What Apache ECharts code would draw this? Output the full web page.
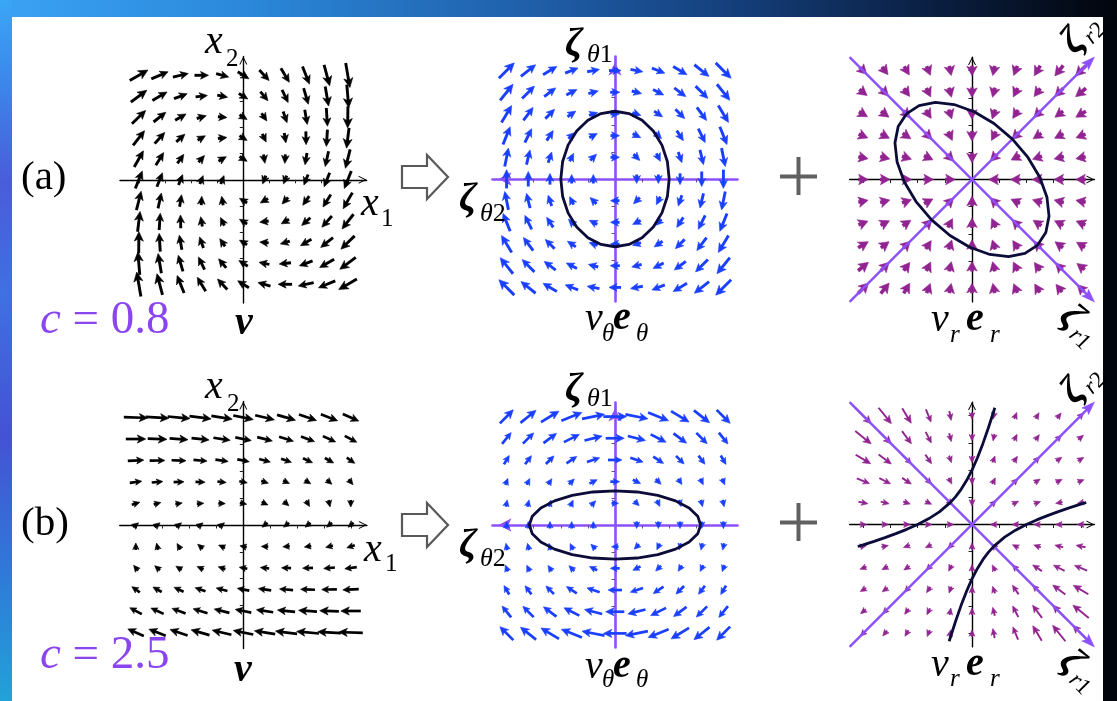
<!DOCTYPE html>
<html>
<head>
<meta charset="utf-8">
<script src="https://cdn.jsdelivr.net/npm/echarts@6/dist/echarts.min.js"></script>
<style>
html, body { margin: 0; padding: 0; width: 1117px; height: 701px; overflow: hidden; background: #02050c; }
#topbar { position: absolute; left: 0; top: 0; width: 1117px; height: 17px;
  background: linear-gradient(90deg, #3aa2f4 0%, #2b88da 22%, #1f5ea8 48%, #143e7a 66%, #0a1e40 84%, #02050c 100%); }
#leftbar { position: absolute; left: 0; top: 0; width: 12px; height: 701px;
  background: linear-gradient(180deg, #3aa6f6 0%, #3c86ea 12%, #4a5cda 26%, #3f70e2 42%, #4552d4 62%, #2f7ad8 82%, #22a2d8 100%); }
#paper { position: absolute; left: 12px; top: 17px; width: 1091px; height: 684px; background: #ffffff; }
#chart { position: absolute; left: 0; top: 0; width: 1117px; height: 701px; }
</style>
</head>
<body>
<div id="topbar"></div>
<div id="leftbar"></div>
<div id="paper"></div>
<div id="chart"></div>
<script>
// Sample positions of the 11 x 11 arrow lattice (same on both axes)
const gridValues = [-2, -1.6, -1.2, -0.8, -0.4, 0, 0.4, 0.8, 1.2, 1.6, 2];
const tickValues = [-2, -1.5, -1, -0.5, 0.5, 1, 1.5, 2];

// Each field: rows from top (x2 = 2) to bottom (x2 = -2), columns from x1 = -2 to 2, entries [v1, v2]
// (a) c = 0.8 : full field v
const fieldVA = [
  [[13,7.5],[12,5],[11,2.5],[10,0],[9,-2.5],[8,-5],[7,-7.5],[6,-10],[5,-12.5],[4,-15],[3,-17.5]],
  [[11.4,8.5],[10.4,6],[9.4,3.5],[8.4,1],[7.4,-1.5],[6.4,-4],[5.4,-6.5],[4.4,-9],[3.4,-11.5],[2.4,-14],[1.4,-16.5]],
  [[9.8,9.5],[8.8,7],[7.8,4.5],[6.8,2],[5.8,-0.5],[4.8,-3],[3.8,-5.5],[2.8,-8],[1.8,-10.5],[0.8,-13],[-0.2,-15.5]],
  [[8.2,10.5],[7.2,8],[6.2,5.5],[5.2,3],[4.2,0.5],[3.2,-2],[2.2,-4.5],[1.2,-7],[0.2,-9.5],[-0.8,-12],[-1.8,-14.5]],
  [[6.6,11.5],[5.6,9],[4.6,6.5],[3.6,4],[2.6,1.5],[1.6,-1],[0.6,-3.5],[-0.4,-6],[-1.4,-8.5],[-2.4,-11],[-3.4,-13.5]],
  [[5,12.5],[4,10],[3,7.5],[2,5],[1,2.5],[0,0],[-1,-2.5],[-2,-5],[-3,-7.5],[-4,-10],[-5,-12.5]],
  [[3.4,13.5],[2.4,11],[1.4,8.5],[0.4,6],[-0.6,3.5],[-1.6,1],[-2.6,-1.5],[-3.6,-4],[-4.6,-6.5],[-5.6,-9],[-6.6,-11.5]],
  [[1.8,14.5],[0.8,12],[-0.2,9.5],[-1.2,7],[-2.2,4.5],[-3.2,2],[-4.2,-0.5],[-5.2,-3],[-6.2,-5.5],[-7.2,-8],[-8.2,-10.5]],
  [[0.2,15.5],[-0.8,13],[-1.8,10.5],[-2.8,8],[-3.8,5.5],[-4.8,3],[-5.8,0.5],[-6.8,-2],[-7.8,-4.5],[-8.8,-7],[-9.8,-9.5]],
  [[-1.4,16.5],[-2.4,14],[-3.4,11.5],[-4.4,9],[-5.4,6.5],[-6.4,4],[-7.4,1.5],[-8.4,-1],[-9.4,-3.5],[-10.4,-6],[-11.4,-8.5]],
  [[-3,17.5],[-4,15],[-5,12.5],[-6,10],[-7,7.5],[-8,5],[-9,2.5],[-10,0],[-11,-2.5],[-12,-5],[-13,-7.5]]
];
// (a) tangential part v_theta e_theta
const fieldThetaA = [
  [[10.3,10.3],[9.8,7.8],[9.2,5.5],[8.6,3.4],[8.2,1.6],[8,0],[8.2,-1.6],[8.6,-3.4],[9.2,-5.5],[9.8,-7.8],[10.3,-10.3]],
  [[8.6,10.7],[8.2,8.2],[7.7,5.8],[7.1,3.6],[6.6,1.7],[6.4,0],[6.6,-1.7],[7.1,-3.6],[7.7,-5.8],[8.2,-8.2],[8.6,-10.7]],
  [[6.8,11.3],[6.5,8.7],[6.2,6.2],[5.6,3.8],[5.1,1.7],[4.8,0],[5.1,-1.7],[5.6,-3.8],[6.2,-6.2],[6.5,-8.7],[6.8,-11.3]],
  [[4.8,11.9],[4.6,9.3],[4.4,6.7],[4.1,4.1],[3.6,1.8],[3.2,0],[3.6,-1.8],[4.1,-4.1],[4.4,-6.7],[4.6,-9.3],[4.8,-11.9]],
  [[2.5,12.3],[2.4,9.8],[2.4,7.2],[2.3,4.6],[2.1,2.1],[1.6,0],[2.1,-2.1],[2.3,-4.6],[2.4,-7.2],[2.4,-9.8],[2.5,-12.3]],
  [[0,12.5],[0,10],[0,7.5],[0,5],[0,2.5],[0,0],[0,-2.5],[0,-5],[0,-7.5],[0,-10],[0,-12.5]],
  [[-2.5,12.3],[-2.4,9.8],[-2.4,7.2],[-2.3,4.6],[-2.1,2.1],[-1.6,0],[-2.1,-2.1],[-2.3,-4.6],[-2.4,-7.2],[-2.4,-9.8],[-2.5,-12.3]],
  [[-4.8,11.9],[-4.6,9.3],[-4.4,6.7],[-4.1,4.1],[-3.6,1.8],[-3.2,0],[-3.6,-1.8],[-4.1,-4.1],[-4.4,-6.7],[-4.6,-9.3],[-4.8,-11.9]],
  [[-6.8,11.3],[-6.5,8.7],[-6.2,6.2],[-5.6,3.8],[-5.1,1.7],[-4.8,0],[-5.1,-1.7],[-5.6,-3.8],[-6.2,-6.2],[-6.5,-8.7],[-6.8,-11.3]],
  [[-8.6,10.7],[-8.2,8.2],[-7.7,5.8],[-7.1,3.6],[-6.6,1.7],[-6.4,0],[-6.6,-1.7],[-7.1,-3.6],[-7.7,-5.8],[-8.2,-8.2],[-8.6,-10.7]],
  [[-10.3,10.3],[-9.8,7.8],[-9.2,5.5],[-8.6,3.4],[-8.2,1.6],[-8,0],[-8.2,-1.6],[-8.6,-3.4],[-9.2,-5.5],[-9.8,-7.8],[-10.3,-10.3]]
];
// (a) radial part v_r e_r
const fieldRadialA = [
  [[2.8,-2.8],[2.2,-2.8],[1.8,-3],[1.4,-3.4],[0.8,-4.1],[0,-5],[-1.2,-5.9],[-2.6,-6.6],[-4.2,-7],[-5.8,-7.2],[-7.3,-7.3]],
  [[2.8,-2.2],[2.2,-2.2],[1.7,-2.3],[1.3,-2.6],[0.8,-3.2],[0,-4],[-1.2,-4.8],[-2.7,-5.4],[-4.3,-5.7],[-5.8,-5.8],[-7.2,-5.8]],
  [[3,-1.8],[2.3,-1.7],[1.7,-1.7],[1.2,-1.8],[0.7,-2.2],[0,-3],[-1.3,-3.8],[-2.8,-4.2],[-4.4,-4.4],[-5.7,-4.3],[-7,-4.2]],
  [[3.4,-1.4],[2.6,-1.3],[1.8,-1.2],[1.1,-1.1],[0.6,-1.3],[0,-2],[-1.4,-2.7],[-2.9,-2.9],[-4.2,-2.8],[-5.4,-2.7],[-6.6,-2.6]],
  [[4.1,-0.8],[3.2,-0.8],[2.2,-0.7],[1.3,-0.6],[0.6,-0.6],[0,-1],[-1.5,-1.5],[-2.7,-1.4],[-3.8,-1.3],[-4.8,-1.2],[-5.9,-1.2]],
  [[5,0],[4,0],[3,0],[2,0],[1,0],[0,0],[-1,0],[-2,0],[-3,0],[-4,0],[-5,0]],
  [[5.9,1.2],[4.8,1.2],[3.8,1.3],[2.7,1.4],[1.5,1.5],[0,1],[-0.6,0.6],[-1.3,0.6],[-2.2,0.7],[-3.2,0.8],[-4.1,0.8]],
  [[6.6,2.6],[5.4,2.7],[4.2,2.8],[2.9,2.9],[1.4,2.7],[0,2],[-0.6,1.3],[-1.1,1.1],[-1.8,1.2],[-2.6,1.3],[-3.4,1.4]],
  [[7,4.2],[5.7,4.3],[4.4,4.4],[2.8,4.2],[1.3,3.8],[0,3],[-0.7,2.2],[-1.2,1.8],[-1.7,1.7],[-2.3,1.7],[-3,1.8]],
  [[7.2,5.8],[5.8,5.8],[4.3,5.7],[2.7,5.4],[1.2,4.8],[0,4],[-0.8,3.2],[-1.3,2.6],[-1.7,2.3],[-2.2,2.2],[-2.8,2.2]],
  [[7.3,7.3],[5.8,7.2],[4.2,7],[2.6,6.6],[1.2,5.9],[0,5],[-0.8,4.1],[-1.4,3.4],[-1.8,3],[-2.2,2.8],[-2.8,2.8]]
];
// (b) c = 2.5 : full field v
const fieldVB = [
  [[30,-1],[29,-1.8],[28,-2.6],[27,-3.4],[26,-4.2],[25,-5],[24,-5.8],[23,-6.6],[22,-7.4],[21,-8.2],[20,-9]],
  [[25,0],[24,-0.8],[23,-1.6],[22,-2.4],[21,-3.2],[20,-4],[19,-4.8],[18,-5.6],[17,-6.4],[16,-7.2],[15,-8]],
  [[20,1],[19,0.2],[18,-0.6],[17,-1.4],[16,-2.2],[15,-3],[14,-3.8],[13,-4.6],[12,-5.4],[11,-6.2],[10,-7]],
  [[15,2],[14,1.2],[13,0.4],[12,-0.4],[11,-1.2],[10,-2],[9,-2.8],[8,-3.6],[7,-4.4],[6,-5.2],[5,-6]],
  [[10,3],[9,2.2],[8,1.4],[7,0.6],[6,-0.2],[5,-1],[4,-1.8],[3,-2.6],[2,-3.4],[1,-4.2],[0,-5]],
  [[5,4],[4,3.2],[3,2.4],[2,1.6],[1,0.8],[0,0],[-1,-0.8],[-2,-1.6],[-3,-2.4],[-4,-3.2],[-5,-4]],
  [[0,5],[-1,4.2],[-2,3.4],[-3,2.6],[-4,1.8],[-5,1],[-6,0.2],[-7,-0.6],[-8,-1.4],[-9,-2.2],[-10,-3]],
  [[-5,6],[-6,5.2],[-7,4.4],[-8,3.6],[-9,2.8],[-10,2],[-11,1.2],[-12,0.4],[-13,-0.4],[-14,-1.2],[-15,-2]],
  [[-10,7],[-11,6.2],[-12,5.4],[-13,4.6],[-14,3.8],[-15,3],[-16,2.2],[-17,1.4],[-18,0.6],[-19,-0.2],[-20,-1]],
  [[-15,8],[-16,7.2],[-17,6.4],[-18,5.6],[-19,4.8],[-20,4],[-21,3.2],[-22,2.4],[-23,1.6],[-24,0.8],[-25,0]],
  [[-20,9],[-21,8.2],[-22,7.4],[-23,6.6],[-24,5.8],[-25,5],[-26,4.2],[-27,3.4],[-28,2.6],[-29,1.8],[-30,1]]
];
// (b) tangential part v_theta e_theta
const fieldThetaB = [
  [[14.5,14.5],[16.8,13.4],[19.4,11.7],[22.1,8.8],[24.2,4.8],[25,0],[24.2,-4.8],[22.1,-8.8],[19.4,-11.7],[16.8,-13.4],[14.5,-14.5]],
  [[9.8,12.2],[11.6,11.6],[14,10.5],[16.6,8.3],[19,4.8],[20,0],[19,-4.8],[16.6,-8.3],[14,-10.5],[11.6,-11.6],[9.8,-12.2]],
  [[5.7,9.6],[6.9,9.2],[8.7,8.7],[11.1,7.4],[13.7,4.6],[15,0],[13.7,-4.6],[11.1,-7.4],[8.7,-8.7],[6.9,-9.2],[5.7,-9.6]],
  [[2.8,6.9],[3.3,6.6],[4.2,6.3],[5.8,5.8],[8.3,4.2],[10,0],[8.3,-4.2],[5.8,-5.8],[4.2,-6.3],[3.3,-6.6],[2.8,-6.9]],
  [[1,4.8],[1,4.2],[1.2,3.7],[1.6,3.3],[2.9,2.9],[5,0],[2.9,-2.9],[1.6,-3.3],[1.2,-3.7],[1,-4.2],[1,-4.8]],
  [[0,4],[0,3.2],[0,2.4],[0,1.6],[0,0.8],[0,0],[0,-0.8],[0,-1.6],[0,-2.4],[0,-3.2],[0,-4]],
  [[-1,4.8],[-1,4.2],[-1.2,3.7],[-1.6,3.3],[-2.9,2.9],[-5,0],[-2.9,-2.9],[-1.6,-3.3],[-1.2,-3.7],[-1,-4.2],[-1,-4.8]],
  [[-2.8,6.9],[-3.3,6.6],[-4.2,6.3],[-5.8,5.8],[-8.3,4.2],[-10,0],[-8.3,-4.2],[-5.8,-5.8],[-4.2,-6.3],[-3.3,-6.6],[-2.8,-6.9]],
  [[-5.7,9.6],[-6.9,9.2],[-8.7,8.7],[-11.1,7.4],[-13.7,4.6],[-15,0],[-13.7,-4.6],[-11.1,-7.4],[-8.7,-8.7],[-6.9,-9.2],[-5.7,-9.6]],
  [[-9.8,12.2],[-11.6,11.6],[-14,10.5],[-16.6,8.3],[-19,4.8],[-20,0],[-19,-4.8],[-16.6,-8.3],[-14,-10.5],[-11.6,-11.6],[-9.8,-12.2]],
  [[-14.5,14.5],[-16.8,13.4],[-19.4,11.7],[-22.1,8.8],[-24.2,4.8],[-25,0],[-24.2,-4.8],[-22.1,-8.8],[-19.4,-11.7],[-16.8,-13.4],[-14.5,-14.5]]
];
// (b) radial part v_r e_r
const fieldRadialB = [
  [[15.5,-15.5],[12.2,-15.2],[8.6,-14.3],[4.9,-12.2],[1.8,-9],[0,-5],[-0.2,-1],[0.9,2.2],[2.6,4.3],[4.2,5.2],[5.5,5.5]],
  [[15.2,-12.2],[12.4,-12.4],[9,-12.1],[5.4,-10.7],[2,-8],[0,-4],[-0.01,-0.05],[1.4,2.7],[3,4.1],[4.4,4.4],[5.2,4.2]],
  [[14.3,-8.6],[12.1,-9],[9.3,-9.3],[5.9,-8.8],[2.3,-6.8],[0,-3],[0.3,0.8],[1.9,2.8],[3.3,3.3],[4.1,3],[4.3,2.6]],
  [[12.2,-4.9],[10.7,-5.4],[8.8,-5.9],[6.2,-6.2],[2.7,-5.4],[0,-2],[0.7,1.4],[2.2,2.2],[2.8,1.9],[2.7,1.4],[2.2,0.9]],
  [[9,-1.8],[8,-2],[6.8,-2.3],[5.4,-2.7],[3.1,-3.1],[0,-1],[1.1,1.1],[1.4,0.7],[0.8,0.3],[-0.05,-0.01],[-1,-0.2]],
  [[5,0],[4,0],[3,0],[2,0],[1,0],[0,0],[-1,0],[-2,0],[-3,0],[-4,0],[-5,0]],
  [[1,0.2],[0.05,0.01],[-0.8,-0.3],[-1.4,-0.7],[-1.1,-1.1],[0,1],[-3.1,3.1],[-5.4,2.7],[-6.8,2.3],[-8,2],[-9,1.8]],
  [[-2.2,-0.9],[-2.7,-1.4],[-2.8,-1.9],[-2.2,-2.2],[-0.7,-1.4],[0,2],[-2.7,5.4],[-6.2,6.2],[-8.8,5.9],[-10.7,5.4],[-12.2,4.9]],
  [[-4.3,-2.6],[-4.1,-3],[-3.3,-3.3],[-1.9,-2.8],[-0.3,-0.8],[0,3],[-2.3,6.8],[-5.9,8.8],[-9.3,9.3],[-12.1,9],[-14.3,8.6]],
  [[-5.2,-4.2],[-4.4,-4.4],[-3,-4.1],[-1.4,-2.7],[0.01,0.05],[0,4],[-2,8],[-5.4,10.7],[-9,12.1],[-12.4,12.4],[-15.2,12.2]],
  [[-5.5,-5.5],[-4.2,-5.2],[-2.6,-4.3],[-0.9,-2.2],[0.2,1],[0,5],[-1.8,9],[-4.9,12.2],[-8.6,14.3],[-12.2,15.2],[-15.5,15.5]]
];

// Level curves
const ellipseThetaA = [[1,0],[0.966,0.324],[0.866,0.625],[0.707,0.884],[0.5,1.083],[0.259,1.207],[0,1.25],[-0.259,1.207],[-0.5,1.083],[-0.707,0.884],[-0.866,0.625],[-0.966,0.324],[-1,0],[-0.966,-0.324],[-0.866,-0.625],[-0.707,-0.884],[-0.5,-1.083],[-0.259,-1.207],[0,-1.25],[0.259,-1.207],[0.5,-1.083],[0.707,-0.884],[0.866,-0.625],[0.966,-0.324],[1,0]];
const ellipseThetaB = [[1.58,0],[1.526,0.163],[1.368,0.315],[1.117,0.445],[0.79,0.546],[0.409,0.609],[0,0.63],[-0.409,0.609],[-0.79,0.546],[-1.117,0.445],[-1.368,0.315],[-1.526,0.163],[-1.58,0],[-1.526,-0.163],[-1.368,-0.315],[-1.117,-0.445],[-0.79,-0.546],[-0.409,-0.609],[0,-0.63],[0.409,-0.609],[0.79,-0.546],[1.117,-0.445],[1.368,-0.315],[1.526,-0.163],[1.58,0]];
const ellipseRadialA = [[-1.206,1.206],[-0.973,1.357],[-0.673,1.416],[-0.328,1.378],[0.04,1.246],[0.405,1.029],[0.743,0.743],[1.029,0.405],[1.246,0.04],[1.378,-0.328],[1.416,-0.673],[1.357,-0.973],[1.206,-1.206],[0.973,-1.357],[0.673,-1.416],[0.328,-1.378],[-0.04,-1.246],[-0.405,-1.029],[-0.743,-0.743],[-1.029,-0.405],[-1.246,-0.04],[-1.378,0.328],[-1.416,0.673],[-1.357,0.973],[-1.206,1.206]];
const hyperbolaUpper = [[-2.1,-0.405],[-2,-0.374],[-1.8,-0.309],[-1.6,-0.241],[-1.4,-0.168],[-1.2,-0.089],[-1,0],[-0.8,0.104],[-0.6,0.233],[-0.4,0.403],[-0.3,0.513],[-0.2,0.646],[-0.1,0.807],[0,1],[0.1,1.227],[0.2,1.486],[0.3,1.773],[0.42,2.147]];
const hyperbolaLower = [[2.1,0.405],[2,0.374],[1.8,0.309],[1.6,0.241],[1.4,0.168],[1.2,0.089],[1,0],[0.8,-0.104],[0.6,-0.233],[0.4,-0.403],[0.3,-0.513],[0.2,-0.646],[0.1,-0.807],[0,-1],[-0.1,-1.227],[-0.2,-1.486],[-0.3,-1.773],[-0.42,-2.147]];
// Principal directions drawn in the radial panels: [x1 start, x2 start, x1 end, x2 end]
const principalLines = [[-2.25, -2.25, 2.25, 2.25], [-2.25, 2.25, 2.25, -2.25]];

// ---- panel frames (pixel boxes) ----
const panels = [
  { left: 120,   top: 56.5,  size: 246.6, R: 2.36, kind: 'plain'  },
  { left: 492.5, top: 56.5,  size: 245,   R: 2.26, kind: 'theta'  },
  { left: 849.6, top: 57.1,  size: 244.8, R: 2.25, kind: 'radial' },
  { left: 119.7, top: 401.4, size: 247.2, R: 2.3,  kind: 'plain'  },
  { left: 492.5, top: 402.5, size: 245,   R: 2.26, kind: 'theta'  },
  { left: 849.6, top: 402.1, size: 244.8, R: 2.25, kind: 'radial' }
];

const BLACK = '#000000', BLUE = '#1a3fff', MAGENTA = '#912490', VIOLET = '#8c50ff', CURVE = '#0c0c3a';
const CHEVRON = 'path://M0,10L5,0L10,10L8.7,10L5,2.6L1.3,10Z';
const SERIF = '"Liberation Serif", "DejaVu Serif", serif';

const arrowStyles = [
  { color: BLACK,   scale: 1.4,  minLen: 9,  headMin: 8,   headMax: 9.5, widthRatio: 0.48, notch: 0.74, lineWidth: 2.9 },
  { color: BLUE,    scale: 1.5,  minLen: 9,  headMin: 8,   headMax: 9.5, widthRatio: 0.48, notch: 0.74, lineWidth: 2.9 },
  { color: MAGENTA, scale: 1.45, minLen: 10, headMin: 9.5, headMax: 11,  widthRatio: 0.55, notch: 0.78, lineWidth: 3.6 },
  { color: BLACK,   scale: 0.8,  minLen: 7,  headMin: 6.5, headMax: 8.5, widthRatio: 0.48, notch: 0.74, lineWidth: 2.7 },
  { color: BLUE,    scale: 0.93, minLen: 7,  headMin: 6.5, headMax: 8.5, widthRatio: 0.48, notch: 0.74, lineWidth: 2.7 },
  { color: MAGENTA, scale: 1.05, minLen: 7,  headMin: 6.5, headMax: 8,   widthRatio: 0.45, notch: 0.74, lineWidth: 1.9 }
];
const fields = [fieldVA, fieldThetaA, fieldRadialA, fieldVB, fieldThetaB, fieldRadialB];

function arrowShapes(tail, tip, head, st) {
  const dx = tip[0] - tail[0], dy = tip[1] - tail[1];
  const L = Math.hypot(dx, dy) || 1;
  const ux = dx / L, uy = dy / L, nx = -uy, ny = ux;
  const hw = head * st.widthRatio;
  const back = [tip[0] - ux * head, tip[1] - uy * head];
  const notch = [tip[0] - ux * head * st.notch, tip[1] - uy * head * st.notch];
  const out = [];
  if (L > head * st.notch + 0.5) {
    out.push({ type: 'line', shape: { x1: tail[0], y1: tail[1], x2: notch[0] + ux * 0.8, y2: notch[1] + uy * 0.8 },
      style: { stroke: st.color, fill: null, lineWidth: st.lineWidth, lineCap: 'butt' } });
  }
  out.push({ type: 'polygon', shape: { points: [tip, [back[0] + nx * hw, back[1] + ny * hw], notch, [back[0] - nx * hw, back[1] - ny * hw]] },
    style: { fill: st.color, stroke: st.color, lineWidth: 0.6, lineJoin: 'miter' } });
  return out;
}

function fieldSeries(idx) {
  const st = arrowStyles[idx];
  const data = [];
  fields[idx].forEach((row, r) => row.forEach((v, c) => data.push([gridValues[c], gridValues[10 - r], v[0], v[1]])));
  return {
    type: 'custom', xAxisIndex: idx, yAxisIndex: idx, data, z: 3, silent: true,
    encode: { x: 0, y: 1 },
    renderItem: function (params, api) {
      const vx = api.value(2), vy = api.value(3);
      const mag = Math.hypot(vx, vy);
      if (!mag) return null;
      const c = api.coord([api.value(0), api.value(1)]);
      const ux = vx / mag, uy = -vy / mag;
      const len = Math.max(st.scale * mag, st.minLen);
      const head = Math.min(st.headMax, Math.max(st.headMin, 0.45 * len));
      const tip = [c[0] + ux * len / 2, c[1] + uy * len / 2];
      const tail = [c[0] - ux * len / 2, c[1] - uy * len / 2];
      return { type: 'group', children: arrowShapes(tail, tip, head, st) };
    }
  };
}

function principalSeries(idx) {
  const st = { color: VIOLET, widthRatio: 0.36, notch: 0.8, lineWidth: 2.4 };
  return {
    type: 'custom', xAxisIndex: idx, yAxisIndex: idx, data: principalLines, z: 5, silent: true,
    encode: { x: [0, 2], y: [1, 3] },
    renderItem: function (params, api) {
      const a = api.coord([api.value(0), api.value(1)]);
      const b = api.coord([api.value(2), api.value(3)]);
      return { type: 'group', children: arrowShapes(a, b, 13, st) };
    }
  };
}

function curveSeries(idx, pts) {
  return { type: 'line', xAxisIndex: idx, yAxisIndex: idx, data: pts, z: 6, silent: true,
    symbol: 'none', smooth: false, lineStyle: { color: CURVE, width: 2.8 } };
}

const grids = [], xAxes = [], yAxes = [];
panels.forEach((p, i) => {
  grids.push({ left: p.left, top: p.top, width: p.size, height: p.size, containLabel: false });
  const violet = p.kind === 'theta';
  const lineColor = violet ? VIOLET : BLACK;
  const common = {
    gridIndex: i, type: 'value', min: -p.R, max: p.R,
    axisLabel: { show: false }, splitLine: { show: false },
    axisTick: { show: true, customValues: tickValues, length: 3.5,
      lineStyle: { color: violet ? '#6a4a8a' : '#222', width: 1 } }
  };
  const lineX = { onZero: true, lineStyle: { color: lineColor, width: violet ? 2.6 : 1.4 } };
  const lineY = { onZero: true, lineStyle: { color: lineColor, width: violet ? 2.6 : 1.4 } };
  if (violet) {
    Object.assign(lineX, { symbol: ['arrow', 'none'], symbolSize: [10, 13], symbolOffset: [6, 0] });
    Object.assign(lineY, { symbol: ['none', 'arrow'], symbolSize: [10, 13], symbolOffset: [0, -6] });
  } else {
    Object.assign(lineX, { symbol: ['none', CHEVRON], symbolSize: [8, 8], symbolOffset: [0, -4] });
    Object.assign(lineY, { symbol: ['none', CHEVRON], symbolSize: [8, 8], symbolOffset: [0, -4] });
  }
  xAxes.push(Object.assign({}, common, { axisLine: lineX }));
  yAxes.push(Object.assign({}, common, { axisLine: lineY }));
});

const series = [];
for (let i = 0; i < 6; i++) series.push(fieldSeries(i));
series.push(principalSeries(2), principalSeries(5));
series.push(curveSeries(1, ellipseThetaA), curveSeries(4, ellipseThetaB), curveSeries(2, ellipseRadialA),
            curveSeries(5, hyperbolaUpper), curveSeries(5, hyperbolaLower));

// ---- text and decorations ----
function fontProps(size, style, weight, fill) {
  return { fontFamily: SERIF, fontSize: size, fontStyle: style || 'normal', fontWeight: weight || 'normal', fill: fill || '#000' };
}
function txt(text, x, y, size, opt) {
  opt = opt || {};
  const style = Object.assign({ text: text, textAlign: opt.align || 'left', textVerticalAlign: 'middle' },
    fontProps(size, opt.style, opt.weight, opt.fill));
  if (opt.rich) style.rich = opt.rich;
  return { type: 'text', x: x, y: y, silent: true, z: 20, style: style };
}
function sub(text, x, y, size) {
  size = size || 26;
  // italic letter followed by an upright digit
  return txt('{i|' + text[0] + '}{n|' + text.slice(1) + '}', x, y, size, {
    rich: { i: fontProps(size, 'italic'), n: fontProps(size) } });
}
function rotatedZeta(cx, cy, rot, subText) {
  const z = txt('ζ', -22, 0, 40, { style: 'italic', weight: 'bold' });
  const s = sub('r' + subText, -2, 9, 23);
  return { type: 'group', x: cx, y: cy, rotation: rot, silent: true, z: 20, children: [z, s] };
}
function hollowArrow(dy) {
  return { type: 'polygon', silent: true, z: 20,
    shape: { points: [[402, 166 + dy], [427, 166 + dy], [427, 155 + dy], [448, 177 + dy], [427, 199 + dy], [427, 188 + dy], [402, 188 + dy]] },
    style: { fill: '#fff', stroke: '#595959', lineWidth: 2.2 } };
}
function plusSign(dy) {
  return [
    { type: 'rect', silent: true, z: 20, shape: { x: 780, y: 174.5 + dy, width: 37, height: 4 }, style: { fill: '#606060' } },
    { type: 'rect', silent: true, z: 20, shape: { x: 796.5, y: 157 + dy, width: 4, height: 38 }, style: { fill: '#606060' } }
  ];
}
const PURPLE_TEXT = '#8a45ee';
const cRich = { i: fontProps(47, 'italic', 'normal', PURPLE_TEXT), n: fontProps(47, 'normal', 'normal', PURPLE_TEXT) };

const graphics = [
  txt('(a)', 21, 178, 41), txt('(b)', 21, 524, 41),
  txt('{i|c}{n| = 0.8}', 40, 321, 47, { rich: cRich, fill: PURPLE_TEXT }),
  txt('{i|c}{n| = 2.5}', 40, 656, 47, { rich: cRich, fill: PURPLE_TEXT }),
  // axis names of the full field
  txt('x', 205, 42, 40, { style: 'italic' }), txt('2', 226, 59, 25),
  txt('x', 361, 204, 40, { style: 'italic' }), txt('1', 381, 219, 25),
  txt('x', 205, 387, 40, { style: 'italic' }), txt('2', 227, 404, 25),
  txt('x', 364, 550, 40, { style: 'italic' }), txt('1', 385, 564, 25),
  txt('v', 244, 324, 40, { style: 'italic', weight: 'bold', align: 'center' }),
  txt('v', 243, 671, 40, { style: 'italic', weight: 'bold', align: 'center' }),
  // tangential panels
  txt('ζ', 565, 45, 40, { style: 'italic', weight: 'bold' }), sub('θ1', 587, 55),
  txt('ζ', 565, 390, 40, { style: 'italic', weight: 'bold' }), sub('θ1', 587, 399),
  txt('ζ', 459, 200, 40, { style: 'italic', weight: 'bold' }), sub('θ2', 480, 214),
  txt('ζ', 459, 546, 40, { style: 'italic', weight: 'bold' }), sub('θ2', 480, 559),
  txt('v', 585, 319, 40, { style: 'italic' }), txt('θ', 602, 334, 25, { style: 'italic' }),
  txt('e', 613, 319, 40, { style: 'italic', weight: 'bold' }), txt('θ', 636, 334, 25, { style: 'italic' }),
  txt('v', 585, 667, 40, { style: 'italic' }), txt('θ', 602, 680, 25, { style: 'italic' }),
  txt('e', 613, 667, 40, { style: 'italic', weight: 'bold' }), txt('θ', 636, 680, 25, { style: 'italic' }),
  // radial panels
  txt('v', 931, 320, 40, { style: 'italic' }), txt('r', 950, 335, 25, { style: 'italic' }),
  txt('e', 966, 320, 40, { style: 'italic', weight: 'bold' }), txt('r', 990, 335, 25, { style: 'italic' }),
  txt('v', 931, 665, 40, { style: 'italic' }), txt('r', 950, 679, 25, { style: 'italic' }),
  txt('e', 966, 665, 40, { style: 'italic', weight: 'bold' }), txt('r', 990, 679, 25, { style: 'italic' }),
  rotatedZeta(1083, 33, Math.PI / 4, '2'), rotatedZeta(1080, 327, -Math.PI / 4, '1'),
  rotatedZeta(1083, 383, Math.PI / 4, '2'), rotatedZeta(1080, 672, -Math.PI / 4, '1'),
  hollowArrow(0), hollowArrow(348)
].concat(plusSign(0), plusSign(346));

const chart = echarts.init(document.getElementById('chart'), null, { renderer: 'canvas', width: 1117, height: 701 });
chart.setOption({
  backgroundColor: 'transparent',
  animation: false,
  grid: grids, xAxis: xAxes, yAxis: yAxes,
  series: series,
  graphic: { elements: graphics }
});
</script>
</body>
</html>
